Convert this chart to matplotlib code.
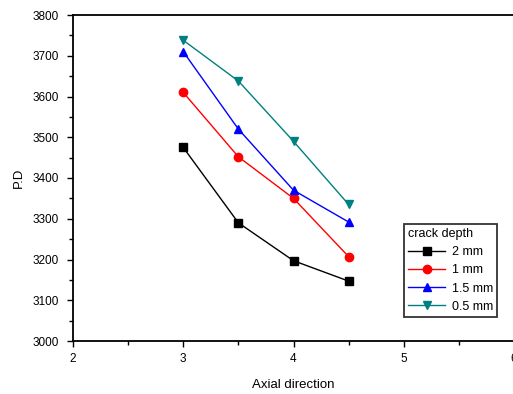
import matplotlib
matplotlib.use("Agg")
import matplotlib.pyplot as plt
from matplotlib.ticker import MultipleLocator

x = [3, 3.5, 4, 4.5]
labels = ["2 mm", "1 mm", "1.5 mm", "0.5 mm"]
d2 = [3475, 3290, 3197, 3147]
d1 = [3610, 3452, 3350, 3207]
d15 = [3710, 3520, 3370, 3292]
d05 = [3738, 3638, 3490, 3335]
series = [d2, d1, d15, d05]
colors = ["black", "red", "blue", "#008080"]
markers = ["s", "o", "^", "v"]

plt.rcParams['font.family'] = ['Liberation Sans', 'DejaVu Sans']
fig = plt.figure(figsize=(5.13, 3.94), dpi=100)
ax = fig.add_axes([73/513, 1-341/394, 441/513, (341-15)/394])
for ys, c, m, lab in zip(series, colors, markers, labels):
    ax.plot(x, ys, color=c, marker=m, markersize=6, lw=1, label=lab)
ax.set_xlim(2, 6)
ax.set_ylim(3000, 3800)
ax.xaxis.set_major_locator(MultipleLocator(1))
ax.xaxis.set_minor_locator(MultipleLocator(0.5))
ax.yaxis.set_major_locator(MultipleLocator(100))
ax.yaxis.set_minor_locator(MultipleLocator(50))
ax.tick_params(which='both', direction='out', labelsize=8.5, width=1)
ax.tick_params(which='major', length=4)
ax.tick_params(which='minor', length=3)
ax.tick_params(axis='y', pad=6)
ax.tick_params(axis='x', pad=5)
for s in ax.spines.values():
    s.set_linewidth(1.3)
ax.set_xlabel("Axial direction", fontsize=9.5, labelpad=10)
ax.set_ylabel("P.D", fontsize=9.5, labelpad=6)
leg = ax.legend(title="crack depth", loc='upper left',
                bbox_to_anchor=((404-73)/441, 1-(224-15)/326),
                fontsize=9, title_fontsize=9, frameon=True, fancybox=False, edgecolor='black',
                handlelength=3, borderpad=0.3, labelspacing=0.5, borderaxespad=0,
                handletextpad=0.5)
leg._legend_box.align = "left"
leg.get_frame().set_linewidth(1.3)
fig.savefig("out.png", dpi=100)
